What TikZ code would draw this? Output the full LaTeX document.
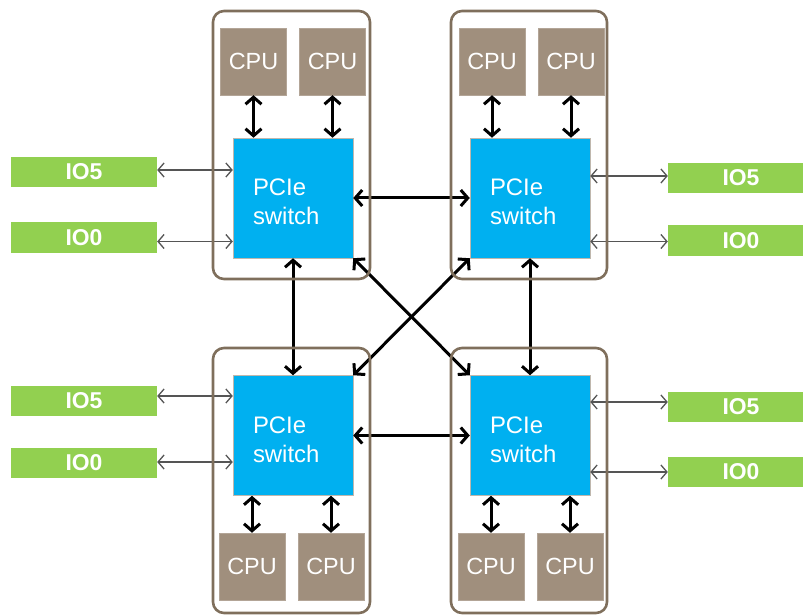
\documentclass[tikz,border=0pt]{standalone}
\usepackage{fontspec}
\setmainfont{Liberation Sans}
\usetikzlibrary{arrows.meta}
\definecolor{cpubrown}{HTML}{A08F7D}
\definecolor{framebrown}{HTML}{7F6F5C}
\definecolor{swblue}{HTML}{00B0F0}
\definecolor{iogreen}{HTML}{92D050}
\definecolor{thingray}{HTML}{555555}
\newcommand{\swlabel}{\rule{0pt}{25bp}PCIe\\switch}
\tikzset{
  cpubox/.style={fill=cpubrown, draw=cpubrown!80!white, line width=0.4bp, minimum width=66bp, minimum height=67bp, inner sep=0pt, text=white, font=\fontsize{23.5}{27}\selectfont},
  swbox/.style={fill=swblue, draw=framebrown!50!white, line width=0.5bp, minimum width=120bp, minimum height=120bp, inner sep=0pt, text=white, align=left, text width=80bp, font=\fontsize{24}{29}\selectfont},
  iobox/.style={fill=iogreen, minimum width=146bp, minimum height=30bp, inner sep=0pt, text=white, font=\bfseries\fontsize{23}{25}\selectfont},
  modframe/.style={draw=framebrown, line width=2.6bp, rounded corners=11bp},
  thick link/.style={draw=black, line width=3bp, {Straight Barb[length=7bp,width=16bp]}-{Straight Barb[length=7bp,width=16bp]}},
  thin link/.style={draw=thingray, line width=1.3bp, {Straight Barb[length=6bp,width=14bp]}-{Straight Barb[length=6bp,width=14bp]}},
}
\begin{document}
\begin{tikzpicture}[x=1bp,y=-1bp]
\useasboundingbox (0,0) rectangle (803,615);
% switches
\node[swbox] (swTL) at (293,198) {\swlabel};
\node[swbox] (swTR) at (530,198) {\swlabel};
\node[swbox] (swBL) at (293,435.5) {\swlabel};
\node[swbox] (swBR) at (530,435.5) {\swlabel};
% CPUs
\node[cpubox] (cTL1) at (253.5,61.5) {CPU};
\node[cpubox] (cTL2) at (332.5,61.5) {CPU};
\node[cpubox] (cTR1) at (492,61.5) {CPU};
\node[cpubox] (cTR2) at (571,61.5) {CPU};
\node[cpubox] (cBL1) at (252,566.5) {CPU};
\node[cpubox] (cBL2) at (331,566.5) {CPU};
\node[cpubox] (cBR1) at (491,566.5) {CPU};
\node[cpubox] (cBR2) at (570,566.5) {CPU};
% IO boxes
\node[iobox] (ioTL5) at (84,172) {IO5};
\node[iobox] (ioTL0) at (84,237.5) {IO0};
\node[iobox] (ioTR5) at (741,178) {IO5};
\node[iobox] (ioTR0) at (741,240.5) {IO0};
\node[iobox] (ioBL5) at (84,401) {IO5};
\node[iobox] (ioBL0) at (84,463) {IO0};
\node[iobox] (ioBR5) at (741,407) {IO5};
\node[iobox] (ioBR0) at (741,472) {IO0};
% CPU links
\foreach \c/\s in {cTL1/swTL,cTL2/swTL,cTR1/swTR,cTR2/swTR}
  \draw[thick link] (\c.south) -- (\c.south |- \s.north);
\foreach \c/\s in {cBL1/swBL,cBL2/swBL,cBR1/swBR,cBR2/swBR}
  \draw[thick link] (\c.north) -- (\c.north |- \s.south);
% switch interconnect
\draw[thick link] (swTL.east) -- (swTR.west);
\draw[thick link] (swBL.east) -- (swBR.west);
\draw[thick link] (swTL.south) -- (swBL.north);
\draw[thick link] (swTR.south) -- (swBR.north);
\draw[thick link] (swTL.south east) -- (swBR.north west);
\draw[thick link] (swTR.south west) -- (swBL.north east);
% IO links
\draw[thin link] ([yshift=2bp]ioTL5.east) -- ([yshift=2bp]ioTL5.east -| swTL.west);
\draw[thin link] ([yshift=-4bp]ioTL0.east) -- ([yshift=-4bp]ioTL0.east -| swTL.west);
\draw[thin link] ([yshift=2bp]ioTR5.west) -- ([yshift=2bp]ioTR5.west -| swTR.east);
\draw[thin link] ([yshift=-1bp]ioTR0.west) -- ([yshift=-1bp]ioTR0.west -| swTR.east);
\draw[thin link] ([yshift=5bp]ioBL5.east) -- ([yshift=5bp]ioBL5.east -| swBL.west);
\draw[thin link] ([yshift=1bp]ioBL0.east) -- ([yshift=1bp]ioBL0.east -| swBL.west);
\draw[thin link] ([yshift=5bp]ioBR5.west) -- ([yshift=5bp]ioBR5.west -| swBR.east);
\draw[thin link] (ioBR0.west) -- (ioBR0.west -| swBR.east);
% module frames
\draw[modframe] (213,11) rectangle (370,279);
\draw[modframe] (451,11) rectangle (607,279);
\draw[modframe] (213,348) rectangle (370,613);
\draw[modframe] (451,348) rectangle (607,613);
\end{tikzpicture}
\end{document}
